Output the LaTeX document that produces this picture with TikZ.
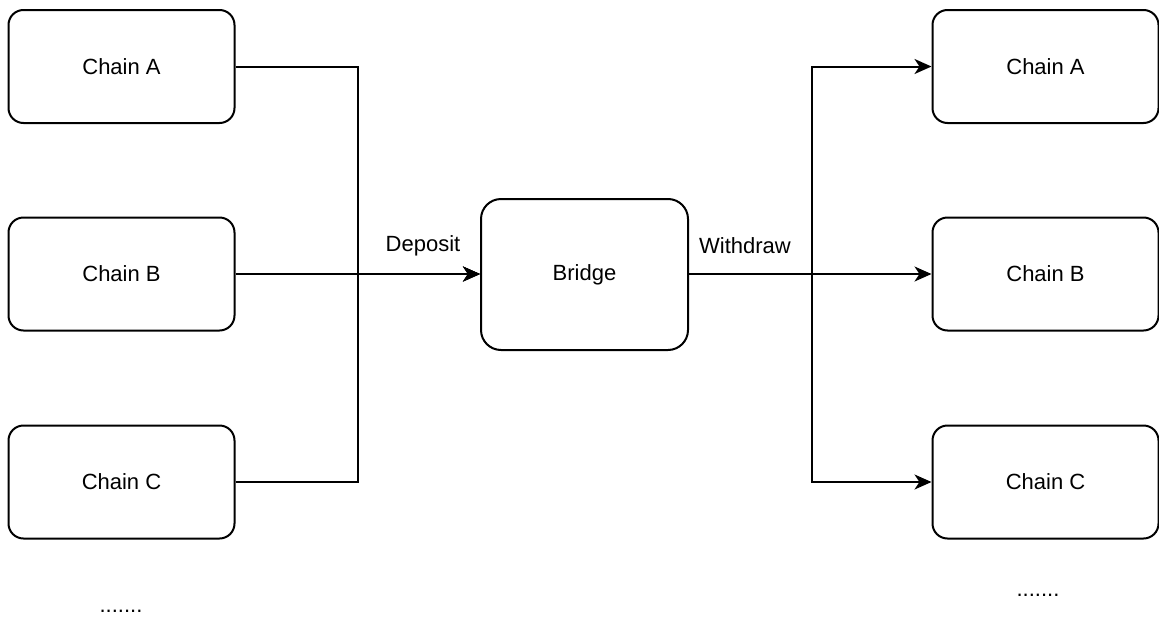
\documentclass[tikz,border=0pt]{standalone}
\usepackage{fontspec}
\setmainfont{Liberation Sans}
\usetikzlibrary{arrows.meta}
\begin{document}
\begin{tikzpicture}[x=1pt,y=-1pt,
  font=\fontsize{22}{26}\selectfont,
  chainbox/.style={draw, line width=2pt, rounded corners=15pt,
    minimum width=226pt, minimum height=113pt, inner sep=0pt},
  bridgebox/.style={draw, line width=2pt, rounded corners=20pt,
    minimum width=207pt, minimum height=151pt, inner sep=0pt},
  flow/.style={line width=2pt, -{Stealth[length=17pt,width=15pt,inset=5pt]}},
  dots/.style={inner sep=0pt, anchor=base}]
\useasboundingbox (0,0) rectangle (1159,616);

% source chains
\node[chainbox] (la) at (121.5,66.5) {Chain A};
\node[chainbox] (lb) at (121.5,274) {Chain B};
\node[chainbox] (lc) at (121.5,482) {Chain C};

% bridge
\node[bridgebox] (br) at (584.5,274.5) {Bridge};

% destination chains
\node[chainbox] (ra) at (1045.5,66.5) {Chain A};
\node[chainbox] (rb) at (1045.5,274) {Chain B};
\node[chainbox] (rc) at (1045.5,482) {Chain C};

% junction columns
\coordinate (jl) at (357.5,0);
\coordinate (jr) at (812,0);

% deposits into the bridge
\draw[flow] (la.east) -| (jl |- lb.east) -- (br.west |- lb.east);
\draw[flow] (lc.east) -| (jl |- lb.east) -- (br.west |- lb.east);
\draw[flow] (lb.east) -- (br.west |- lb.east);

% withdrawals out of the bridge
\draw[flow] (br.east |- rb.west) -- (jr |- rb.west) |- (ra.west);
\draw[flow] (br.east |- rb.west) -- (jr |- rb.west) |- (rc.west);
\draw[flow] (br.east |- rb.west) -- (rb.west);

% edge labels
\node (dep) at (423,246) {Deposit};
\node (wd) at (745,246) {Withdraw};

% ellipses below the columns
\node[dots] (ld) at (121,612) {.......};
\node[dots] (rd) at (1038,596) {.......};
\end{tikzpicture}
\end{document}
